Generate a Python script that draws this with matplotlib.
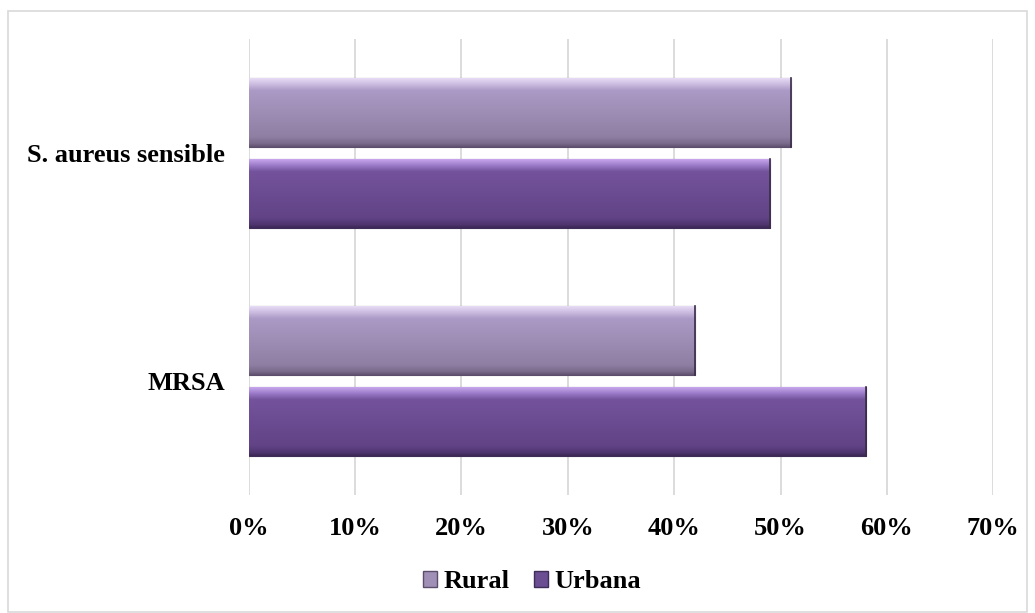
"""Horizontal bar chart: S. aureus sensible vs MRSA, rural vs urbana."""

import numpy as np
import matplotlib.pyplot as plt
import matplotlib.patches as mpatches
from matplotlib.colors import LinearSegmentedColormap

categories = ["MRSA", "S. aureus sensible"]
rural = [0.42, 0.51]
urbana = [0.58, 0.49]
xticks = [0, 0.1, 0.2, 0.3, 0.4, 0.5, 0.6, 0.7]
series_names = ["Rural", "Urbana"]

plt.rcParams["font.family"] = ["Liberation Serif", "DejaVu Serif"]
plt.rcParams["font.weight"] = "bold"

fig = plt.figure(figsize=(10.35, 6.13), dpi=100)
ax = fig.add_axes([0.2403, 0.1925, 0.7194, 0.7439])

y = np.arange(len(categories))
off = 0.177
h = 0.30

bars_r = ax.barh(y + off, rural, height=h, color="#a090b8", edgecolor="#5b4d6b",
                 linewidth=0.8, zorder=3)
bars_u = ax.barh(y - off, urbana, height=h, color="#6a4d93", edgecolor="#3f2c57",
                 linewidth=0.8, zorder=3)

# vertical bevel gradients (top -> bottom)
grad_r = LinearSegmentedColormap.from_list(
    "gr", [(0.0, "#e8dcf6"), (0.10, "#c7b8dd"), (0.18, "#ab9ac5"),
           (0.85, "#8f7fa3"), (0.95, "#7a6b8c"), (1.0, "#5e516d")])
grad_u = LinearSegmentedColormap.from_list(
    "gu", [(0.0, "#c9a8ef"), (0.10, "#9675c4"), (0.18, "#74539c"),
           (0.85, "#614386"), (0.95, "#4f3670"), (1.0, "#3b2755")])

col = np.linspace(0, 1, 256).reshape(-1, 1)
for bars, cmap in [(bars_r, grad_r), (bars_u, grad_u)]:
    for p in bars:
        x0, y0 = p.get_x(), p.get_y()
        x1, y1 = x0 + p.get_width(), y0 + p.get_height()
        im = ax.imshow(col, cmap=cmap, aspect="auto", extent=(x0, x1, y0, y1),
                       origin="upper", zorder=3.5, interpolation="bilinear")
        im.set_clip_path(p)
        # darker right edge
        ax.plot([x1, x1], [y0, y1], color="#3a2d48", lw=1.2, zorder=4)

ax.set_xlim(0, 0.7)
ax.set_ylim(-0.5, 1.5)
ax.set_xticks(xticks)
ax.set_xticklabels([f"{int(round(t * 100))}%" for t in xticks], fontsize=19,
                   fontweight="bold")
ax.set_yticks(y)
ax.set_yticklabels(categories, fontsize=19, fontweight="bold")
ax.tick_params(axis="both", length=0)
ax.tick_params(axis="x", pad=16)
ax.tick_params(axis="y", pad=17)
ax.grid(axis="x", color="#d9d9d9", linewidth=1.3, zorder=0)
ax.set_axisbelow(True)
for s in ax.spines.values():
    s.set_visible(False)

handles = [mpatches.Patch(facecolor="#a090b8", edgecolor="#5b4d6b", label=series_names[0]),
           mpatches.Patch(facecolor="#6a4d93", edgecolor="#3f2c57", label=series_names[1])]
fig.legend(handles=handles, loc="center", bbox_to_anchor=(0.514, 1 - 582 / 613),
           ncol=2, frameon=False, handlelength=0.55,
           handleheight=0.55, handletextpad=0.25, columnspacing=0.9,
           prop={"weight": "bold", "size": 19})

# outer chart border
fig.patches.append(mpatches.Rectangle((8 / 1035, 1 / 613), 1019 / 1035, 601 / 613,
                                      transform=fig.transFigure, fill=False,
                                      edgecolor="#d9d9d9", linewidth=1.2))

fig.savefig("out.png", dpi=100, facecolor="white")
plt.close()
